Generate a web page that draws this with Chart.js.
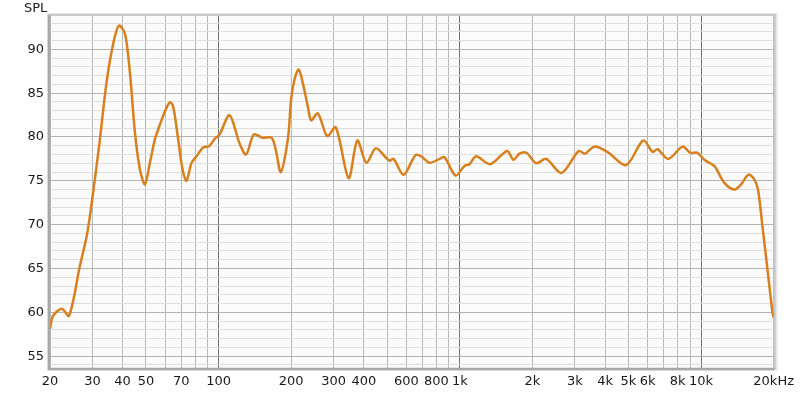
<!DOCTYPE html>
<html>
<head>
<meta charset="utf-8">
<script src="https://cdn.jsdelivr.net/npm/chart.js@4/dist/chart.umd.min.js"></script>
<style>
  html,body{margin:0;padding:0;background:#ffffff;}
  #wrap{position:relative;width:800px;height:393px;}
</style>
</head>
<body>
<div id="wrap"><canvas id="c" width="800" height="393"></canvas></div>
<script>
// Frequency (Hz) and SPL (dB)
const freqHz = [20, 20.6, 22.4, 24.0, 26.6, 28.4, 29.8, 32.2, 34.3, 36.6, 38.6, 40.9, 42.9, 45.0, 47.2, 49.5, 51.9, 54.4, 57.1, 60.3, 62.8, 64.8, 68.0, 70.9, 73.6, 77.2, 81.0, 86.3, 91.3, 96.4, 101, 111, 122, 130, 140, 152, 166, 173, 181, 194, 200, 207, 215, 224, 235, 242, 258, 282, 306, 346, 376, 410, 448, 496, 512, 531, 585, 654, 692, 749, 824, 864, 960, 1046, 1097, 1169, 1336, 1571, 1668, 1767, 1889, 2072, 2280, 2638, 3110, 3306, 3613, 4088, 4888, 5764, 6298, 6606, 7314, 8382, 9020, 9674, 10310, 11340, 12474, 13721, 14668, 15728, 16604, 17218, 17972, 18850, 19771, 20000];
const splDb  = [58.1, 59.6, 60.4, 59.6, 65.3, 68.7, 72.5, 79.7, 86.2, 90.7, 92.7, 91.8, 87.3, 80.5, 76.3, 74.6, 77.05, 79.7, 81.4, 83.1, 83.95, 83.5, 79.7, 76.3, 75.0, 77.05, 77.8, 78.8, 78.95, 79.8, 80.3, 82.5, 79.3, 78.0, 80.3, 79.9, 79.9, 78.4, 76.0, 79.9, 84.4, 86.7, 87.7, 86.0, 83.3, 81.9, 82.7, 80.1, 81.1, 75.3, 79.6, 77.05, 78.7, 77.6, 77.3, 77.5, 75.7, 77.9, 77.8, 77.05, 77.5, 77.7, 75.6, 76.7, 76.9, 77.8, 76.9, 78.4, 77.4, 78.1, 78.2, 77.0, 77.5, 75.9, 78.4, 78.1, 78.9, 78.3, 76.8, 79.6, 78.3, 78.6, 77.5, 78.9, 78.2, 78.2, 77.4, 76.7, 74.8, 74.0, 74.6, 75.7, 75.2, 74.0, 69.8, 64.9, 60.0, 59.4];

const xGridHz = [20,30,40,50,60,70,80,90,100,200,300,400,500,600,700,800,900,1000,2000,3000,4000,5000,6000,7000,8000,9000,10000,20000];
const xLabels = {20:'20',30:'30',40:'40',50:'50',70:'70',100:'100',200:'200',300:'300',400:'400',600:'600',800:'800',1000:'1k',2000:'2k',3000:'3k',4000:'4k',5000:'5k',6000:'6k',8000:'8k',10000:'10k',20000:'20kHz'};
const yTickValues = [54,55,56,57,58,59,60,61,62,63,64,65,66,67,68,69,70,71,72,73,74,75,76,77,78,79,80,81,82,83,84,85,86,87,88,89,90,91,92,93];
const yLabelStep = 5;
const yMin = 53.65, yMax = 93.8;
const axisTitle = 'SPL';

const points = freqHz.map((f, i) => ({x: f, y: splDb[i]}));

const framePlugin = {
  id: 'frame',
  beforeDraw(chart) {
    const {ctx, chartArea: a} = chart;
    ctx.save();
    ctx.fillStyle = '#e8e8e8';
    ctx.fillRect(a.left - 3, a.top - 3, a.right - a.left + 7, a.bottom - a.top + 6);
    ctx.fillStyle = '#fbfbfb';
    ctx.fillRect(a.left, a.top, a.right - a.left, a.bottom - a.top);
    ctx.restore();
  },
  afterDraw(chart) {
    const {ctx, chartArea: a} = chart;
    ctx.save();
    ctx.strokeStyle = '#c8c8c8';
    ctx.lineWidth = 2;
    ctx.beginPath();
    ctx.moveTo(a.left - 1, a.top - 1); ctx.lineTo(a.right + 1, a.top - 1);
    ctx.lineTo(a.right + 1, a.bottom + 1);
    ctx.stroke();
    ctx.strokeStyle = '#a8a8a8';
    ctx.lineWidth = 2.5;
    ctx.beginPath();
    ctx.moveTo(a.left - 1, a.top - 1); ctx.lineTo(a.left - 1, a.bottom + 1);
    ctx.lineTo(a.right + 1, a.bottom + 1);
    ctx.stroke();
    ctx.fillStyle = '#222';
    ctx.font = '13px "DejaVu Sans"';
    ctx.textAlign = 'left';
    ctx.textBaseline = 'middle';
    ctx.fillText(axisTitle, 24, 9);
    ctx.restore();
  }
};

new Chart(document.getElementById('c'), {
  type: 'line',
  data: {
    datasets: [{
      data: points,
      borderColor: '#d9801e',
      borderWidth: 2.5,
      pointRadius: 0,
      fill: false,
      tension: 0.3,
      clip: false
    }]
  },
  options: {
    responsive: false,
    animation: false,
    devicePixelRatio: 1,
    layout: {padding: {left: 0, right: 25, top: 16, bottom: 0}},
    plugins: {legend: {display: false}, tooltip: {enabled: false}},
    scales: {
      x: {
        type: 'logarithmic',
        min: 20, max: 20000,
        afterBuildTicks(scale) { scale.ticks = xGridHz.map(v => ({value: v})); },
        afterFit(scale) { scale.height = 25; },
        grid: {
          drawTicks: false,
          color(ctx) {
            const v = ctx.tick && ctx.tick.value;
            if (v === 100 || v === 1000 || v === 10000) return '#707070';
            return '#b8b8b8';
          },
          lineWidth: 1
        },
        border: {display: false},
        ticks: {
          autoSkip: false, maxRotation: 0, minRotation: 0, padding: 6,
          color: '#1a1a1a',
          font: {family: 'DejaVu Sans', size: 13},
          callback(value) { return xLabels[value] !== undefined ? xLabels[value] : ''; }
        }
      },
      y: {
        type: 'linear',
        min: yMin, max: yMax,
        afterBuildTicks(scale) { scale.ticks = yTickValues.map(v => ({value: v})); },
        afterFit(scale) { scale.width = 50; },
        grid: {
          drawTicks: false,
          color(ctx) {
            const v = ctx.tick && ctx.tick.value;
            return (v % yLabelStep === 0) ? '#b4b4b4' : '#dedede';
          },
          lineWidth: 1
        },
        border: {display: false},
        ticks: {
          autoSkip: false, padding: 6,
          color: '#1a1a1a',
          font: {family: 'DejaVu Sans', size: 13},
          callback(value) { return value % yLabelStep === 0 ? String(value) : ''; }
        }
      }
    }
  },
  plugins: [framePlugin]
});
</script>
</body>
</html>
